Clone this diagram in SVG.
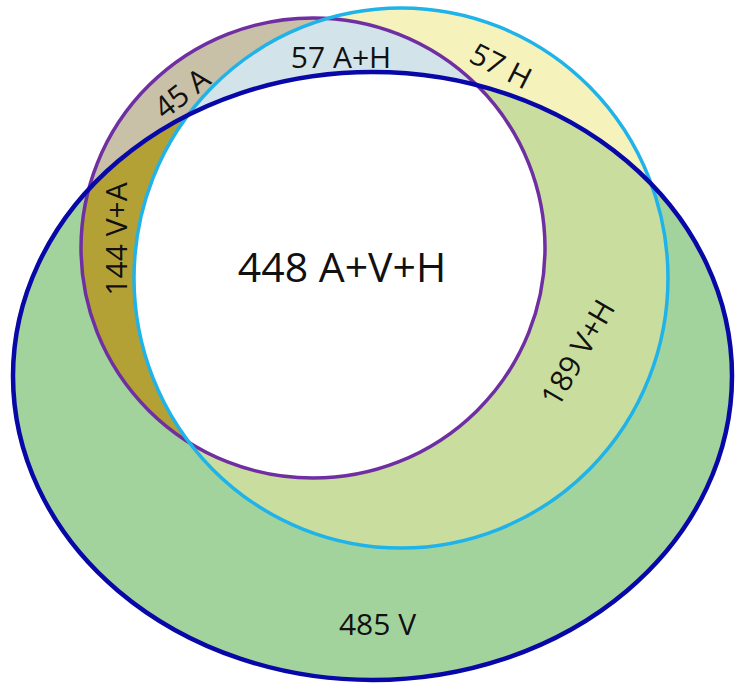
<svg xmlns="http://www.w3.org/2000/svg" width="735" height="686" viewBox="0 0 735 686">
  <style>
    .lbl { font-family: "Open Sans", "Noto Sans", "Liberation Sans", sans-serif; font-size: 30px; fill: #111111; text-anchor: middle; }
    .big { font-size: 41px; }
    .edge { fill: none; }
  </style>
  <defs>
    <ellipse id="shapeA" cx="313" cy="248" rx="232" ry="230"/>
    <ellipse id="shapeH" cx="401" cy="278" rx="267" ry="270"/>
    <ellipse id="shapeV" cx="372.5" cy="376" rx="359.5" ry="304"/>
    <clipPath id="clipA"><use href="#shapeA"/></clipPath>
    <clipPath id="clipH"><use href="#shapeH"/></clipPath>
    <clipPath id="clipV"><use href="#shapeV"/></clipPath>
  </defs>
  <rect width="735" height="686" fill="#ffffff"/>

  <g id="regions">
    <use href="#shapeV" fill="#a3d39c"/>
    <use href="#shapeH" fill="#f5f2bb"/>
    <g clip-path="url(#clipV)"><use href="#shapeH" fill="#c9de9e"/></g>
    <use href="#shapeA" fill="#c9c0a8"/>
    <g clip-path="url(#clipH)"><use href="#shapeA" fill="#d3e3ea"/></g>
    <g clip-path="url(#clipV)"><use href="#shapeA" fill="#b4a136"/></g>
    <g clip-path="url(#clipV)"><g clip-path="url(#clipH)"><use href="#shapeA" fill="#ffffff"/></g></g>
  </g>

  <g id="setA">
    <use href="#shapeA" class="edge" stroke="#6f2fa3" stroke-width="3.5"/>
  </g>
  <g id="setH">
    <use href="#shapeH" class="edge" stroke="#1fb3ea" stroke-width="3.5"/>
  </g>
  <g id="setV">
    <use href="#shapeV" class="edge" stroke="#0808a8" stroke-width="4.5"/>
  </g>

  <g id="labels">
    <text class="lbl" transform="translate(188.5,101.5) rotate(-38)">45 A</text>
    <text class="lbl" x="341" y="68">57 A+H</text>
    <text class="lbl" transform="translate(496,75.5) rotate(27)">57 H</text>
    <text class="lbl" transform="translate(127,239) rotate(-90)">144 V+A</text>
    <text class="lbl big" x="342" y="282">448 A+V+H</text>
    <text class="lbl" transform="translate(587,358) rotate(-60)">189 V+H</text>
    <text class="lbl" x="377.5" y="635">485 V</text>
  </g>
</svg>
